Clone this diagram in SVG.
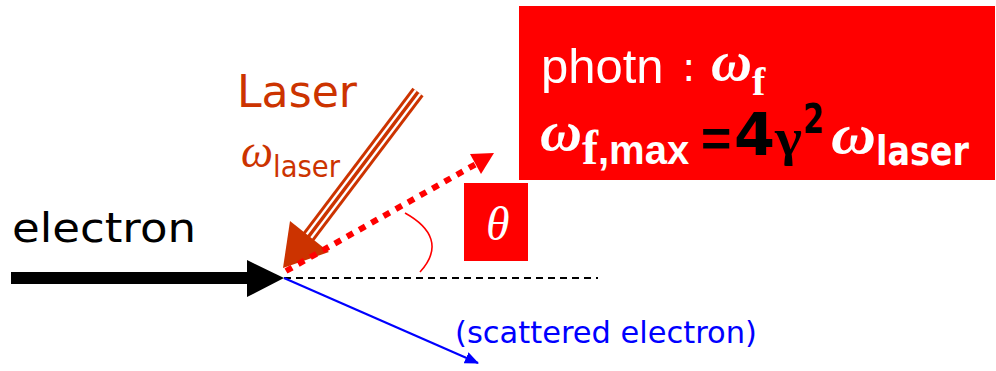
<svg xmlns="http://www.w3.org/2000/svg" width="996" height="371" viewBox="0 0 996 371">
<style>
.sans{font-family:"DejaVu Sans","Liberation Sans",sans-serif;}
.lib{font-family:"Liberation Sans","DejaVu Sans",sans-serif;}
.serif{font-family:"Liberation Serif","DejaVu Serif",serif;}
.w{fill:#FFFFFF;}
.br{fill:#CC3300;}
.k{fill:#000000;}
</style>
<defs>
<marker id="blueHead" markerWidth="14" markerHeight="12" refX="13" refY="6" orient="auto" markerUnits="userSpaceOnUse">
<path d="M0,0 L14,6 L0,12 Z" fill="#0000FF"/>
</marker>
</defs>
<rect width="996" height="371" fill="#FFFFFF"/>

<g id="photon-box">
<rect x="519" y="6" width="476" height="174" fill="#FF0000"/>
<text class="lib w" x="541" y="83" font-size="49">photn</text>
<text class="sans w" x="682" y="81" font-size="40">:</text>
<text class="serif w" x="711" y="80" font-size="56" font-style="italic" font-weight="bold" textLength="41" lengthAdjust="spacingAndGlyphs">ω</text>
<text class="serif w" x="752" y="95" font-size="40" font-weight="bold">f</text>
<text class="serif w" x="540" y="150" font-size="56" font-style="italic" font-weight="bold" textLength="42" lengthAdjust="spacingAndGlyphs">ω</text>
<text class="serif w" x="582" y="164" font-size="48" font-weight="bold">f</text>
<text class="lib w" x="598" y="164" font-size="40" font-weight="bold">,max</text>
<text class="lib k" x="701" y="156" font-size="52" font-weight="bold">=</text>
<text class="sans k" x="734" y="155" font-size="58" font-weight="bold" textLength="41" lengthAdjust="spacingAndGlyphs">4</text>
<text class="serif k" x="775" y="155" font-size="52" font-weight="bold" textLength="27" lengthAdjust="spacingAndGlyphs">γ</text>
<text class="sans k" x="803" y="133" font-size="40" font-weight="bold" textLength="21" lengthAdjust="spacingAndGlyphs">2</text>
<text class="serif w" x="831" y="153" font-size="58" font-style="italic" font-weight="bold" textLength="45" lengthAdjust="spacingAndGlyphs">ω</text>
<text class="sans w" x="876" y="165" font-size="40" font-weight="bold" textLength="93" lengthAdjust="spacingAndGlyphs">laser</text>
</g>

<g id="theta-box">
<rect x="464" y="183" width="64" height="78" fill="#FF0000"/>
<text class="serif w" x="486" y="240" font-size="48" font-style="italic">θ</text>
</g>

<g id="laser-label">
<text class="sans br" x="237" y="107" font-size="44" textLength="120" lengthAdjust="spacingAndGlyphs">Laser</text>
<text class="serif br" x="241" y="167" font-size="46" font-style="italic" textLength="32" lengthAdjust="spacingAndGlyphs">ω</text>
<text class="sans br" x="273" y="177" font-size="30" textLength="67" lengthAdjust="spacingAndGlyphs">laser</text>
</g>

<g id="electron-label">
<text class="sans k" x="12" y="242" font-size="40" textLength="184" lengthAdjust="spacingAndGlyphs">electron</text>
</g>

<g id="scattered-label">
<text class="sans" x="455" y="343" font-size="30" fill="#0000FF" textLength="302" lengthAdjust="spacingAndGlyphs">(scattered electron)</text>
</g>

<g id="connectors">
<!-- electron beam -->
<line x1="11" y1="278" x2="250" y2="278" stroke="#000000" stroke-width="12"/>
<polygon points="247,260 284,278 247,297" fill="#000000"/>
<!-- reference axis -->
<line x1="284" y1="278" x2="598" y2="278" stroke="#000000" stroke-width="2" stroke-dasharray="7,5"/>
<!-- scattered electron -->
<line x1="284" y1="278" x2="478" y2="363" stroke="#0000FF" stroke-width="2.2" marker-end="url(#blueHead)"/>
<!-- laser beam -->
<line x1="418" y1="92" x2="306" y2="240" stroke="#CC3300" stroke-width="14"/>
<line x1="418" y1="92" x2="306" y2="240" stroke="#FFFFFF" stroke-width="8"/>
<line x1="418" y1="92" x2="306" y2="240" stroke="#CC3300" stroke-width="3.5"/>
<polygon points="283,268 290,221 329,252" fill="#CC3300"/>
<!-- photon -->
<line x1="286" y1="271" x2="476" y2="164" stroke="#FF0000" stroke-width="6" stroke-dasharray="7,7"/>
<polygon points="470,154 494,153 481,174" fill="#FF0000"/>
<!-- angle -->
<path d="M405,213 C432,228 442,248 420,272" fill="none" stroke="#FF0000" stroke-width="1.6"/>
</g>
</svg>
